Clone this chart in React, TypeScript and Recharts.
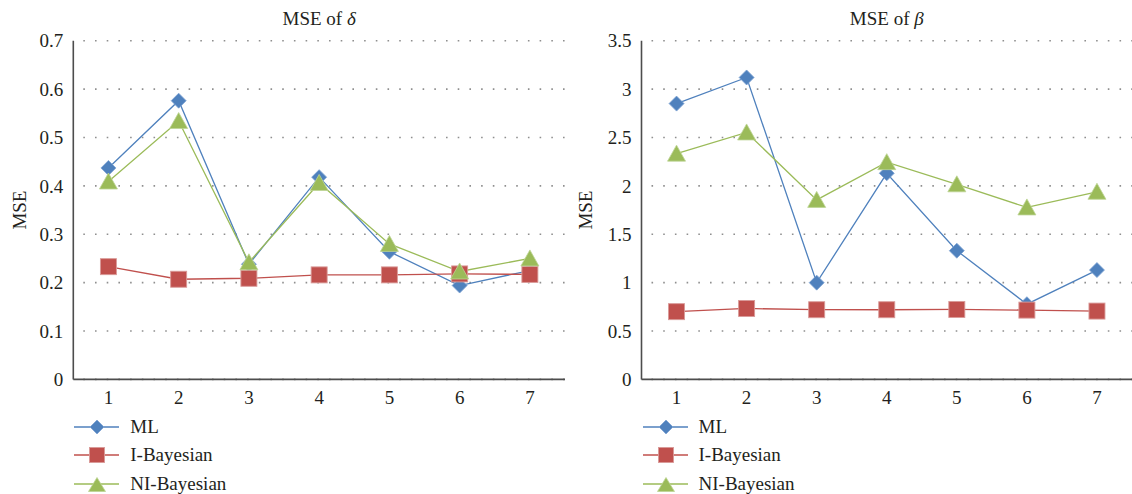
import React from "react";
import { LineChart, Line, XAxis, YAxis, CartesianGrid } from "recharts";

const runs = ["1", "2", "3", "4", "5", "6", "7"];

const deltaTicks = [0, 0.1, 0.2, 0.3, 0.4, 0.5, 0.6, 0.7];
const deltaML = [0.437, 0.576, 0.238, 0.418, 0.264, 0.194, 0.225];
const deltaIB = [0.233, 0.207, 0.209, 0.216, 0.216, 0.218, 0.217];
const deltaNI = [0.409, 0.534, 0.242, 0.406, 0.28, 0.223, 0.25];

const betaTicks = [0, 0.5, 1, 1.5, 2, 2.5, 3, 3.5];
const betaML = [2.85, 3.12, 1.0, 2.13, 1.33, 0.777, 1.13];
const betaIB = [0.7, 0.733, 0.72, 0.72, 0.723, 0.716, 0.706];
const betaNI = [2.333, 2.552, 1.855, 2.245, 2.016, 1.777, 1.939];

const seriesNames = ["ML", "I-Bayesian", "NI-Bayesian"];

const BLUE = "#4F81BD";
const RED = "#C0504D";
const GREEN = "#9BBB59";
const FONT = '"Liberation Serif", "Times New Roman", serif';
const TEXT = "#231f20";

const diamond = (cx: number, cy: number, r: number) =>
  `M${cx},${cy - r}L${cx + r},${cy}L${cx},${cy + r}L${cx - r},${cy}Z`;
const triangle = (cx: number, cy: number, w: number, h: number) =>
  `M${cx},${cy - h / 2 - 1}L${cx + w / 2},${cy + h / 2}L${cx - w / 2},${cy + h / 2}Z`;

const DiamondDot = (p: any) => (
  <path
    key={`dm-${p.index}`}
    d={diamond(p.cx, p.cy, 7.5)}
    fill={BLUE}
    stroke="#7fa3d3"
    strokeWidth={0.8}
  />
);
const SquareDot = (p: any) => (
  <rect
    key={`sq-${p.index}`}
    x={p.cx - 8}
    y={p.cy - 8}
    width={16}
    height={16}
    fill={RED}
    stroke="#d99a98"
    strokeWidth={0.9}
  />
);
const TriangleDot = (p: any) => (
  <path
    key={`tr-${p.index}`}
    d={triangle(p.cx, p.cy, 18, 15)}
    fill={GREEN}
    stroke="#bcd494"
    strokeWidth={0.8}
  />
);

const LegendIcon = ({ i }: { i: number }) => {
  const color = [BLUE, RED, GREEN][i];
  return (
    <svg width={50} height={24} style={{ display: "block" }}>
      <line x1={1} x2={46} y1={12} y2={12} stroke={color} strokeWidth={1.3} />
      {i === 0 && <path d={diamond(24, 12, 7)} fill={BLUE} stroke="#7fa3d3" strokeWidth={0.8} />}
      {i === 1 && <rect x={16.5} y={4.5} width={15} height={15} fill={RED} stroke="#d99a98" strokeWidth={0.9} />}
      {i === 2 && <path d={triangle(24, 13, 17, 13)} fill={GREEN} stroke="#bcd494" strokeWidth={0.8} />}
    </svg>
  );
};

const YLabel = (props: any) => {
  const vb = props.viewBox;
  const x = vb.x + 20;
  const y = vb.y + vb.height / 2;
  return (
    <text
      x={x}
      y={y}
      transform={`rotate(-90 ${x} ${y})`}
      textAnchor="middle"
      dominantBaseline="central"
      fill={TEXT}
      fontSize={19}
      fontFamily={FONT}
    >
      MSE
    </text>
  );
};

type ChartProps = {
  symbol: string;
  ticks: number[];
  ml: number[];
  ib: number[];
  ni: number[];
  yWidth: number;
  rightPad: number;
};

const MseChart = ({ symbol, ticks, ml, ib, ni, yWidth, rightPad }: ChartProps) => {
  const data = runs.map((run, i) => ({ run, ml: ml[i], ib: ib[i], ni: ni[i] }));
  const top = ticks[ticks.length - 1];
  // half of one category band, so the points sit in the middle of each band
  const half = (566 - yWidth - rightPad) / runs.length / 2;
  return (
    <div style={{ position: "relative", width: 566, height: 494, fontFamily: FONT, color: TEXT }}>
      <div
        style={{
          position: "absolute",
          top: 7,
          left: yWidth,
          width: 566 - yWidth - rightPad,
          textAlign: "center",
          fontSize: 19,
          lineHeight: "24px",
        }}
      >
        MSE of <i>{symbol}</i>
      </div>
      <LineChart
        width={566}
        height={410}
        data={data}
        margin={{ top: 40.7, right: rightPad, bottom: 0, left: 0 }}
        style={{ fontFamily: FONT }}
      >
        <CartesianGrid
          vertical={false}
          stroke="#8f8f8f"
          strokeWidth={1.6}
          strokeDasharray="1.6 10.1"
          strokeDashoffset={-10}
        />
        <XAxis
          dataKey="run"
          height={30.6}
          padding={{ left: half, right: half }}
          axisLine={{ stroke: "#4d4d4d", strokeWidth: 1.6 }}
          tickLine={false}
          tickSize={0}
          tickMargin={11}
          tick={{ fill: TEXT, fontSize: 19, fontFamily: FONT }}
        />
        <YAxis
          width={yWidth}
          domain={[0, top]}
          ticks={ticks}
          interval={0}
          axisLine={{ stroke: "#4d4d4d", strokeWidth: 1.6 }}
          tickLine={false}
          tickSize={0}
          tickMargin={10}
          tick={{ fill: TEXT, fontSize: 19, fontFamily: FONT }}
          label={<YLabel />}
        />
        <Line
          type="linear"
          dataKey="ml"
          stroke={BLUE}
          strokeWidth={1.3}
          dot={DiamondDot}
          activeDot={false}
          isAnimationActive={false}
        />
        <Line
          type="linear"
          dataKey="ib"
          stroke={RED}
          strokeWidth={1.3}
          dot={SquareDot}
          activeDot={false}
          isAnimationActive={false}
        />
        <Line
          type="linear"
          dataKey="ni"
          stroke={GREEN}
          strokeWidth={1.3}
          dot={TriangleDot}
          activeDot={false}
          isAnimationActive={false}
        />
      </LineChart>
      <div style={{ position: "absolute", top: 413, left: yWidth }}>
        {seriesNames.map((name, i) => (
          <div
            key={name}
            style={{ display: "flex", alignItems: "center", height: 28.3, fontSize: 19 }}
          >
            <LegendIcon i={i} />
            <span style={{ marginLeft: 7 }}>{name}</span>
          </div>
        ))}
      </div>
    </div>
  );
};

export default function App() {
  return (
    <div style={{ display: "flex", width: 1132, height: 494, background: "#fff", overflow: "hidden" }}>
      <style>{`body{margin:0} .recharts-text{font-family:${FONT};}`}</style>
      <MseChart symbol="δ" ticks={deltaTicks} ml={deltaML} ib={deltaIB} ni={deltaNI} yWidth={73.3} rightPad={1} />
      <MseChart symbol="β" ticks={betaTicks} ml={betaML} ib={betaIB} ni={betaNI} yWidth={75.5} rightPad={0} />
    </div>
  );
}
